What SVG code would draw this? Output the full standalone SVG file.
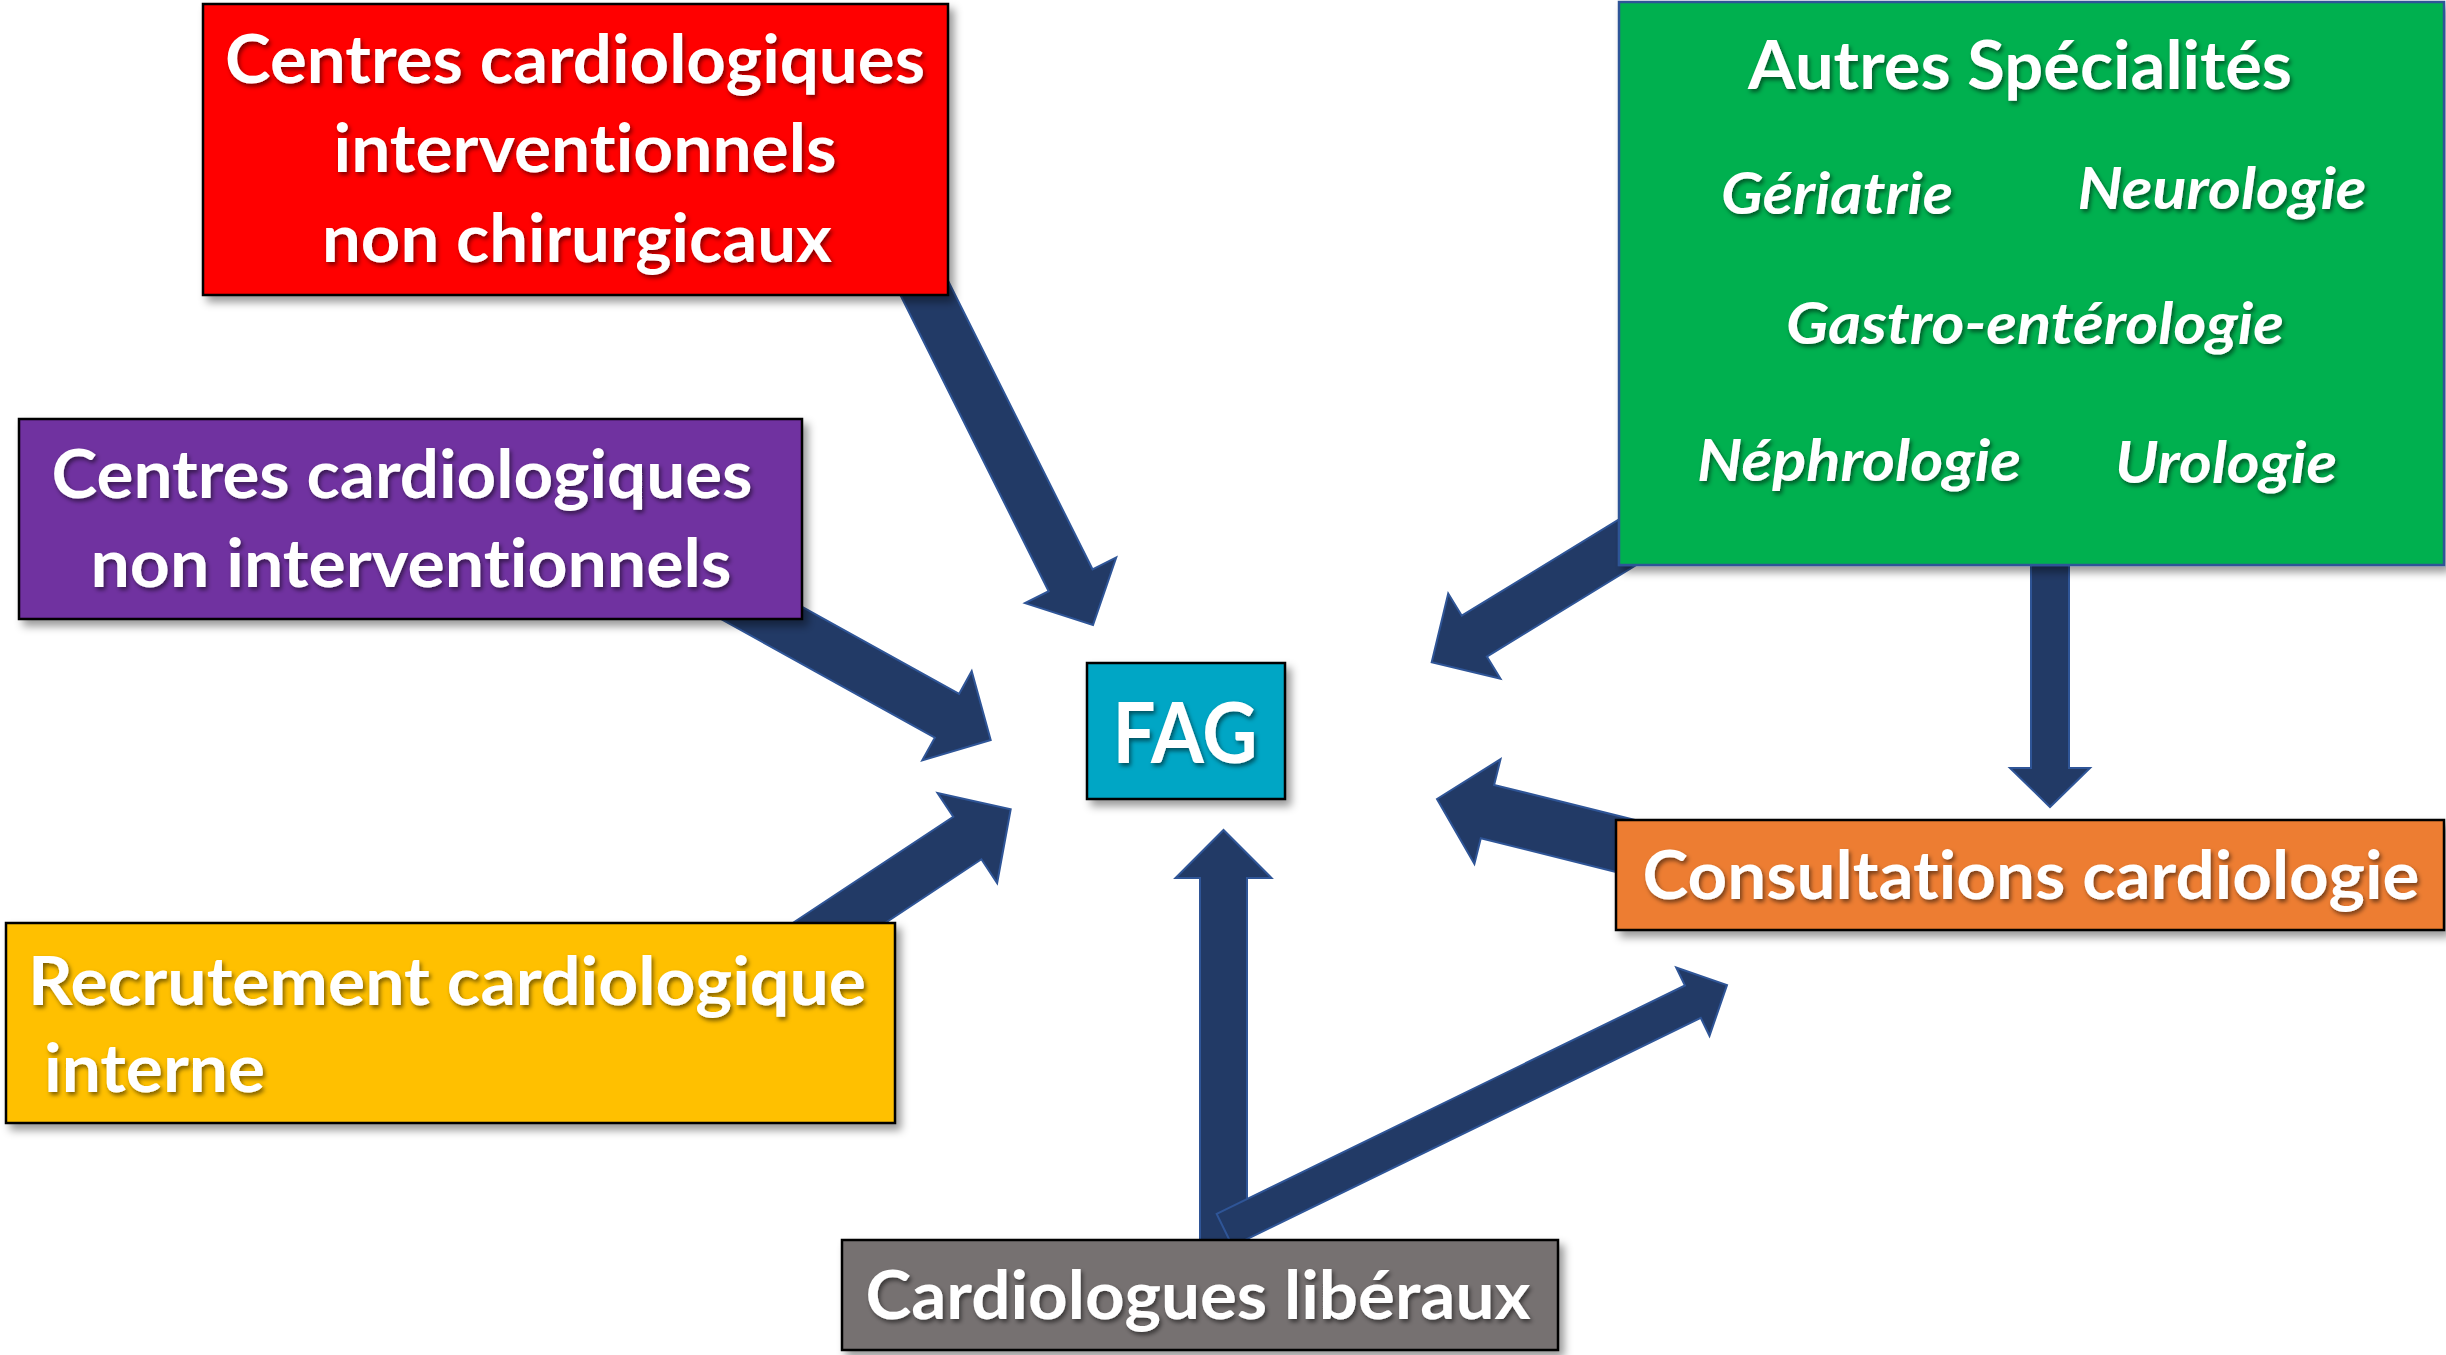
<svg xmlns="http://www.w3.org/2000/svg" width="2446" height="1355" viewBox="0 0 2446 1355">
<defs>
<filter id="bsh" x="-10%" y="-10%" width="125%" height="130%">
<feDropShadow dx="5" dy="6" stdDeviation="4" flood-color="#000" flood-opacity="0.4"/>
</filter>
<filter id="tsh" x="-5%" y="-20%" width="115%" height="150%">
<feDropShadow dx="2" dy="3" stdDeviation="2" flood-color="#000" flood-opacity="0.5"/>
</filter>
<style>
.arr{fill:#223A66;stroke:#2F5597;stroke-width:2;stroke-linejoin:miter}
.box{stroke:#000;stroke-width:2.5}
.t{font-family:Lato,"Open Sans","Liberation Sans",sans-serif;font-weight:bold;fill:#fff;font-size:66px;font-variant-ligatures:none;font-feature-settings:"liga" 0,"clig" 0}
.c{text-anchor:middle}
.i{font-style:italic;font-size:58px}
</style>
</defs>
<rect width="2446" height="1355" fill="#fff"/>
<g id="connectors">
<path class="arr" transform="translate(1093,625) rotate(63.4)" d="M-397,-24.5 L-50,-24.5 L-50,-51 L0,0 L-50,51 L-50,24.5 L-397,24.5 Z"/>
<path class="arr" transform="translate(990.7,740) rotate(29)" d="M-300,-25 L-50,-25 L-50,-51 L0,0 L-50,51 L-50,25 L-300,25 Z"/>
<path class="arr" transform="translate(1010.7,809.3) rotate(-33.5)" d="M-250,-25.5 L-52,-25.5 L-52,-54 L0,0 L-52,54 L-52,25.5 L-250,25.5 Z"/>
<path class="arr" transform="translate(1431.7,662.3) rotate(148.5)" d="M-300,-24 L-50,-24 L-50,-50 L0,0 L-50,50 L-50,24 L-300,24 Z"/>
<path class="arr" transform="translate(2050,807) rotate(90)" d="M-247,-19 L-39,-19 L-39,-40 L0,0 L-39,40 L-39,19 L-247,19 Z"/>
<path class="arr" transform="translate(1437,799) rotate(194)" d="M-250,-27.5 L-52,-27.5 L-52,-54 L0,0 L-52,54 L-52,27.5 L-250,27.5 Z"/>
<path class="arr" transform="translate(1223.5,830) rotate(-90)" d="M-415,-23.5 L-48,-23.5 L-48,-48 L0,0 L-48,48 L-48,23.5 L-415,23.5 Z"/>
<path class="arr" transform="translate(1727,985) rotate(-26)" d="M-559,-18 L-38,-18 L-38,-38 L0,0 L-38,38 L-38,18 L-559,18 Z"/>
</g>
<g id="node-red">
<rect class="box" x="203" y="4" width="745" height="291" fill="#FF0000" filter="url(#bsh)"/>
<g class="t c" filter="url(#tsh)">
<text x="575" y="83" textLength="700" lengthAdjust="spacingAndGlyphs">Centres cardiologiques</text>
<text x="585" y="172" textLength="503" lengthAdjust="spacingAndGlyphs">interventionnels</text>
<text x="577" y="262" textLength="510" lengthAdjust="spacingAndGlyphs">non chirurgicaux</text>
</g>
</g>
<g id="node-purple">
<rect class="box" x="19" y="419" width="783" height="200" fill="#7030A0" filter="url(#bsh)"/>
<g class="t c" filter="url(#tsh)">
<text x="402" y="498" textLength="701" lengthAdjust="spacingAndGlyphs">Centres cardiologiques</text>
<text x="411" y="587" textLength="641" lengthAdjust="spacingAndGlyphs">non interventionnels</text>
</g>
</g>
<g id="node-yellow">
<rect class="box" x="6" y="923" width="889" height="200" fill="#FFC000" filter="url(#bsh)"/>
<g class="t" filter="url(#tsh)">
<text x="28" y="1005" textLength="838" lengthAdjust="spacingAndGlyphs">Recrutement cardiologique</text>
<text x="44" y="1092" textLength="221" lengthAdjust="spacingAndGlyphs">interne</text>
</g>
</g>
<g id="node-fag">
<rect class="box" x="1087" y="663" width="198" height="136" fill="#05A6C5" filter="url(#bsh)"/>
<text class="t c" filter="url(#tsh)" x="1185" y="763" style="font-size:85px" textLength="145" lengthAdjust="spacingAndGlyphs">FAG</text>
</g>
<g id="node-green">
<rect x="1619" y="2" width="825" height="563" fill="#00B050" stroke="#2F5597" stroke-width="2.5" filter="url(#bsh)"/>
<g class="t c" filter="url(#tsh)">
<text x="2020" y="89" textLength="544" lengthAdjust="spacingAndGlyphs">Autres Spécialités</text>
<text class="i" x="1837" y="214" textLength="232" lengthAdjust="spacingAndGlyphs">Gériatrie</text>
<text class="i" x="2222" y="209" textLength="289" lengthAdjust="spacingAndGlyphs">Neurologie</text>
<text class="i" x="2035" y="344" textLength="498" lengthAdjust="spacingAndGlyphs">Gastro-entérologie</text>
<text class="i" x="1859" y="481" textLength="324" lengthAdjust="spacingAndGlyphs">Néphrologie</text>
<text class="i" x="2226" y="483" textLength="222" lengthAdjust="spacingAndGlyphs">Urologie</text>
</g>
</g>
<g id="node-orange">
<rect class="box" x="1616" y="820" width="828" height="110" fill="#ED7D31" filter="url(#bsh)"/>
<text class="t c" filter="url(#tsh)" x="2031" y="899" textLength="777" lengthAdjust="spacingAndGlyphs">Consultations cardiologie</text>
</g>
<g id="node-gray">
<rect class="box" x="842" y="1240" width="716" height="110" fill="#767171" filter="url(#bsh)"/>
<text class="t c" filter="url(#tsh)" x="1198" y="1319" textLength="665" lengthAdjust="spacingAndGlyphs">Cardiologues libéraux</text>
</g>
</svg>
